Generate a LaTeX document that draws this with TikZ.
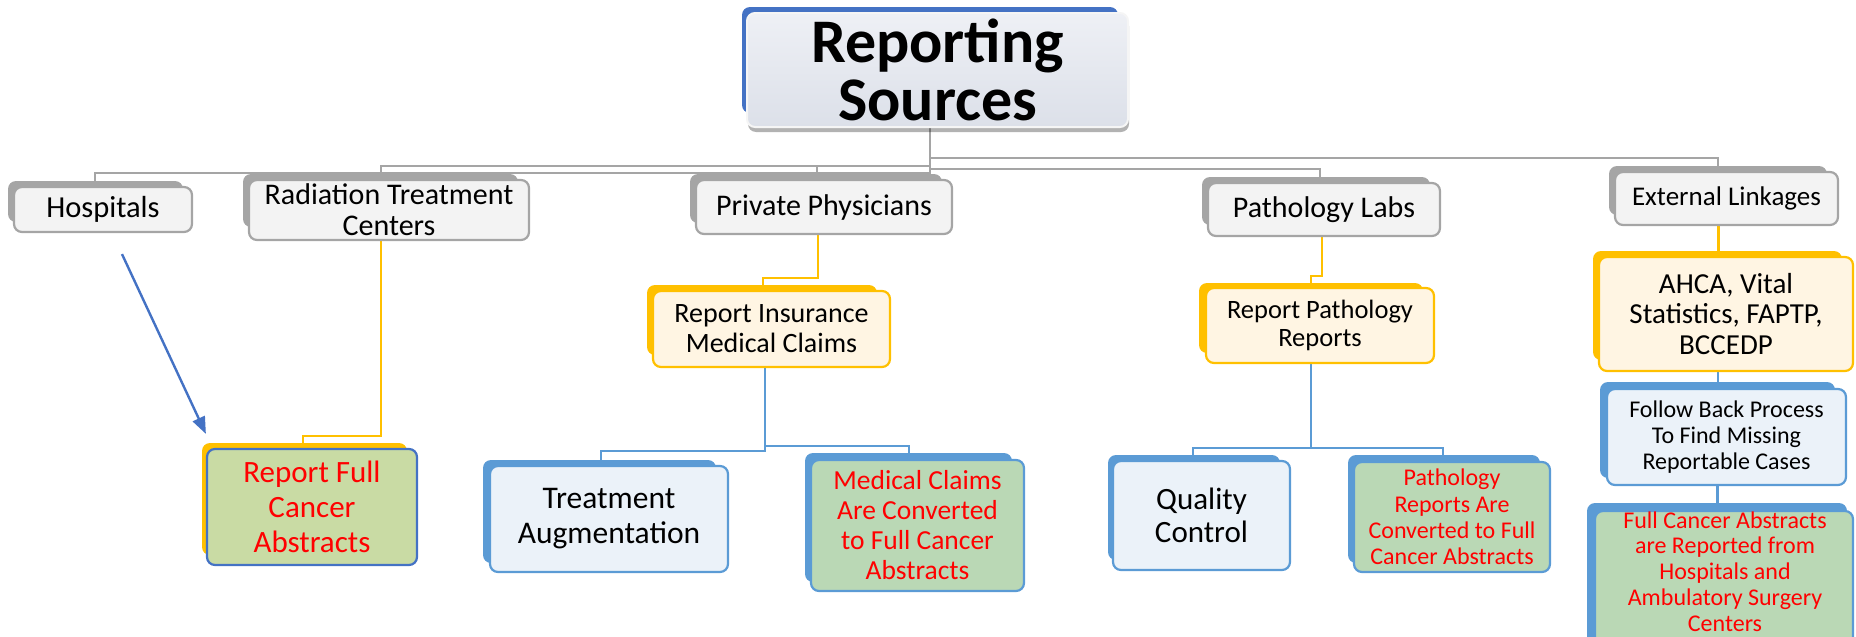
\documentclass[tikz,border=0pt]{standalone}
\usepackage{fontspec}
\setmainfont{Carlito}
\usetikzlibrary{arrows.meta,shadows}
\definecolor{grayc}{HTML}{A5A5A5}
\definecolor{grayfill}{HTML}{F3F3F3}
\definecolor{orangec}{HTML}{FFC000}
\definecolor{creamc}{HTML}{FFF5E3}
\definecolor{bluec}{HTML}{5B9BD5}
\definecolor{bluefill}{HTML}{EBF2F9}
\definecolor{greenc}{HTML}{BAD8B5}
\definecolor{olivec}{HTML}{C9DBA4}
\definecolor{darkbluec}{HTML}{4472C4}
\definecolor{redc}{HTML}{FF0000}
\definecolor{titletop}{HTML}{EEF0F5}
\definecolor{titlebot}{HTML}{DCE0E9}
\newcommand\fsz[2]{\fontsize{#1}{#2}\selectfont}
\pgfdeclarelayer{bg}
\pgfsetlayers{bg,main}
\begin{document}
\begin{tikzpicture}[x=1pt,y=-1pt,
  boxbase/.style={line width=2.2pt, rounded corners=8pt, inner sep=0pt, align=center},
  gfront/.style={boxbase, draw=grayc, fill=grayfill, font=\fsz{30}{31}},
  ofront/.style={boxbase, draw=orangec, fill=creamc},
  bfront/.style={boxbase, draw=bluec, fill=bluefill},
  grfront/.style={boxbase, draw=bluec, fill=greenc, text=redc},
  rffront/.style={boxbase, draw=darkbluec, fill=olivec, text=redc},
  gback/.style={fill=grayc, rounded corners=8pt},
  oback/.style={fill=orangec, rounded corners=8pt},
  bback/.style={fill=bluec, rounded corners=8pt},
  gline/.style={draw=grayc, line width=2.2pt},
  oline/.style={draw=orangec, line width=2.6pt},
  bline/.style={draw=bluec, line width=2.6pt},
  arrowline/.style={draw=darkbluec, line width=2.4pt, -{Triangle[length=17pt,width=13pt]}},
  txt/.style={inner sep=0pt, align=center}
]
\useasboundingbox (0,0) rectangle (1856,637);

% ---------- title ----------
\fill[darkbluec, rounded corners=8pt] (742,7) rectangle (1118,113);
\node[boxbase, line width=2pt, draw=white!92!gray, top color=titletop, bottom color=titlebot,
  drop shadow={shadow xshift=1pt, shadow yshift=-5pt, fill=black, opacity=0.3},
  minimum width=381, minimum height=114, font=\bfseries\fsz{62}{58}] (title) at (937.5,70) {Reporting\\Sources};

% ---------- level 1 ----------
\fill[gback] (8,181) rectangle (183,222);
\node[gfront, minimum width=178, minimum height=45, font=\fsz{30.5}{31}] (hosp) at (103,209.5) {Hospitals};
\fill[gback] (243,174) rectangle (518,227);
\node[gfront, minimum width=280, minimum height=60] (rad) at (389,210) {Radiation Treatment\\Centers};
\fill[gback] (690,174) rectangle (942,223);
\node[gfront, minimum width=256, minimum height=54] (pp) at (824,207) {Private Physicians};
\fill[gback] (1202,177) rectangle (1430,225);
\node[gfront, minimum width=232, minimum height=53] (pl) at (1324,209.5) {Pathology Labs};
\fill[gback] (1609,166) rectangle (1827,215);
\node[gfront, minimum width=223, minimum height=53, font=\fsz{27}{29}] (el) at (1726.5,198.5) {External Linkages};

% ---------- level 2 ----------
\fill[oback] (647,285) rectangle (877,355);
\node[ofront, minimum width=237, minimum height=76, font=\fsz{28}{30}] (ri) at (771.5,329) {Report Insurance\\Medical Claims};
\fill[oback] (1199,283) rectangle (1423,353);
\node[ofront, minimum width=228, minimum height=75, font=\fsz{26.5}{28}] (rp) at (1320,325.5) {Report Pathology\\Reports};
\fill[oback] (1593,251) rectangle (1842,360);
\node[ofront, minimum width=254, minimum height=114, font=\fsz{29}{30.5}] (ahca) at (1726,314) {AHCA, Vital\\Statistics, FAPTP,\\BCCEDP};

% ---------- level 3 ----------
\fill[oback] (202,443) rectangle (407,555);
\node[rffront, minimum width=210, minimum height=116, font=\fsz{31}{35}] (rf) at (312,507) {Report Full\\Cancer\\Abstracts};
\fill[bback] (483,460) rectangle (716,563);
\node[bfront, minimum width=238, minimum height=106, font=\fsz{31.5}{35}] (ta) at (609,519) {Treatment\\Augmentation};
\fill[bback] (805,453) rectangle (1012,582);
\node[grfront, minimum width=213, minimum height=131, font=\fsz{27.5}{30}] (mc) at (917.5,525.5) {Medical Claims\\Are Converted\\to Full Cancer\\Abstracts};
\fill[bback] (1108,455) rectangle (1280,560);
\node[bfront, minimum width=177, minimum height=109, font=\fsz{31}{33}] (qc) at (1201.5,515.5) {Quality\\Control};
\fill[bback] (1348,455) rectangle (1540,563);
\node[grfront, minimum width=196, minimum height=110, font=\fsz{24}{26.3}] (pra) at (1452,517) {Pathology\\Reports Are\\Converted to Full\\Cancer Abstracts};
\fill[bback] (1600,382) rectangle (1835,478);
\node[bfront, minimum width=239, minimum height=96, font=\fsz{24}{26}] (fb) at (1726.5,437) {Follow Back Process\\To Find Missing\\Reportable Cases};
\fill[bback] (1587,503) rectangle (1847,650);
\node[grfront, minimum width=258, minimum height=149] (fca) at (1724,585.5) {};
\node[txt, text=redc, font=\fsz{24}{25.8}] (fcat) at (1725,571.5) {Full Cancer Abstracts\\are Reported from\\Hospitals and\\Ambulatory Surgery\\Centers};

% ---------- connectors ----------
\begin{pgfonlayer}{bg}
\draw[gline] ([xshift=-7.5pt]title.south) -- ++(0,45) -| ([xshift=-8pt]hosp.north);
\draw[gline] ([xshift=-7.5pt]title.south) -- ++(0,38) -| ([xshift=-8pt]rad.north);
\draw[gline] ([xshift=-7.5pt]title.south) -- ++(0,38) -| ([xshift=-7pt]pp.north);
\draw[gline] ([xshift=-7.5pt]title.south) -- ++(0,41) -| ([xshift=-4pt]pl.north);
\draw[gline] ([xshift=-7.5pt]title.south) -- ++(0,30) -| ([xshift=-8.5pt]el.north);

\draw[oline] ([xshift=-8pt]rad.south) -- ++(0,195) -| ([xshift=-9pt]rf.north);
\draw[oline] ([xshift=-6pt]pp.south) -- ++(0,43) -| ([xshift=-8.5pt]ri.north);
\draw[oline] ([xshift=-2pt]pl.south) -- ++(0,39) -| ([xshift=-9pt]rp.north);
\draw[oline] ([xshift=-8pt]el.south) -- ([xshift=-8pt]el.south |- ahca.north);

\draw[bline] ([xshift=-6.5pt]ri.south) -- ++(0,83) -| ([xshift=-8pt]ta.north);
\draw[bline] ([xshift=-6.5pt]ri.south) -- ++(0,78) -| ([xshift=-8.5pt]mc.north);
\draw[bline] ([xshift=-9pt]rp.south) -- ++(0,84) -| ([xshift=-8.5pt]qc.north);
\draw[bline] ([xshift=-9pt]rp.south) -- ++(0,84) -| ([xshift=-9pt]pra.north);
\draw[bline] ([xshift=-8pt]ahca.south) -- ([xshift=-8pt]ahca.south |- fb.north);
\draw[bline] ([xshift=-9pt]fb.south) -- ([xshift=-9pt]fb.south |- fca.north);
\end{pgfonlayer}

\draw[arrowline] ([shift={(19,21)}]hosp.south) -- ([shift={(0,-14)}]rf.north west);
\end{tikzpicture}
\end{document}
